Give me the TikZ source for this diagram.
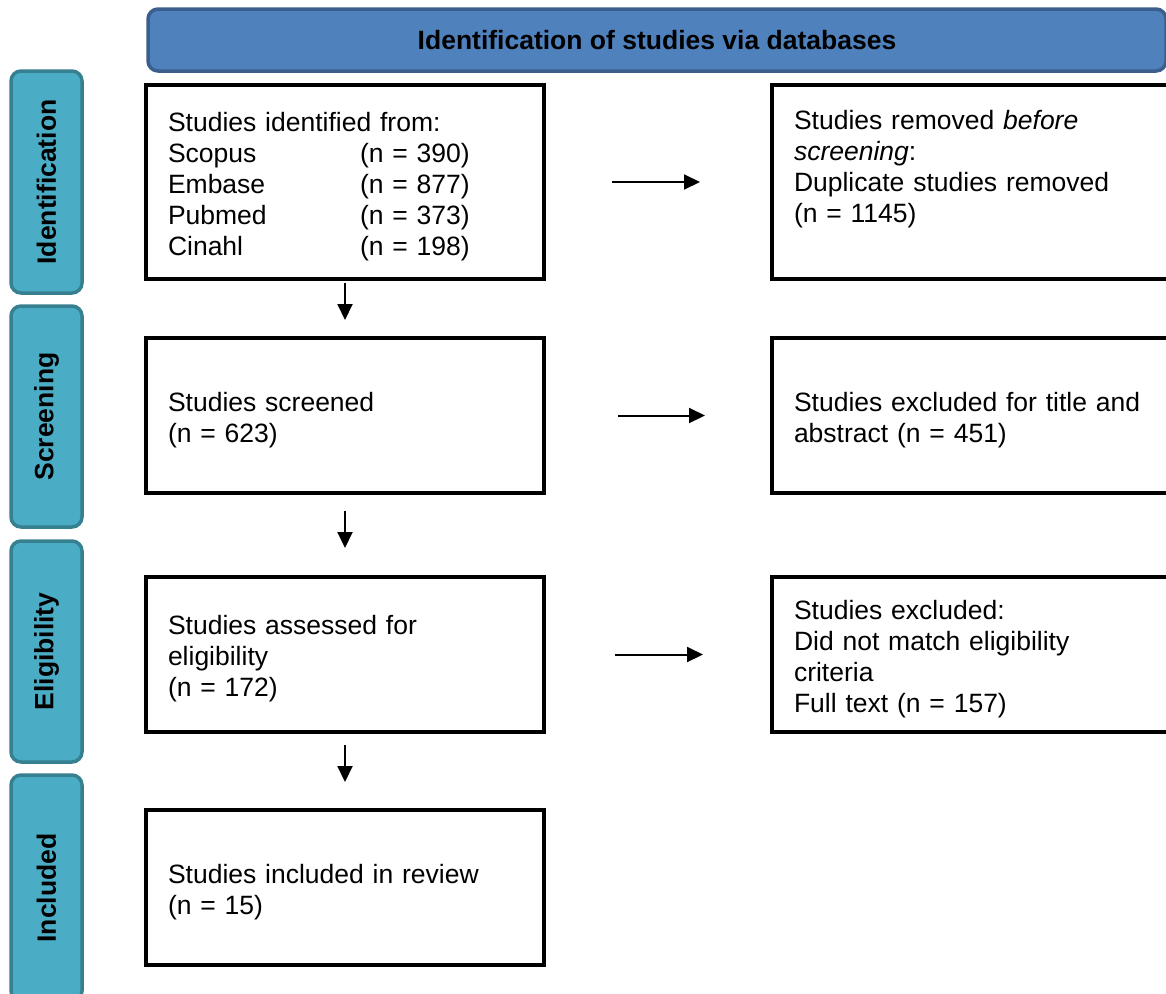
\documentclass[tikz,border=0pt]{standalone}
\usepackage{fontspec}
\setmainfont{Liberation Sans}
\usetikzlibrary{arrows.meta}
\definecolor{banfill}{HTML}{4F81BD}
\definecolor{bandraw}{HTML}{3A5F8D}
\definecolor{labfill}{HTML}{4BACC6}
\definecolor{labdraw}{HTML}{37808F}
\newcommand{\fl}{\rule{0pt}{27.5pt}}
\tikzset{
  flowbox/.style={draw=black, line width=4pt, fill=white, minimum width=398pt, inner xsep=22pt, inner ysep=0pt, outer sep=0pt, text width=354pt, align=left, font=\fontsize{26.5}{31}\selectfont},
  banner/.style={draw=bandraw, line width=3.5pt, fill=banfill, rounded corners=10pt, minimum width=1018pt, minimum height=62pt, inner sep=0pt, font=\fontsize{26.5}{31}\selectfont\bfseries},
  phase/.style={draw=labdraw, line width=3.5pt, fill=labfill, rounded corners=10pt, rotate=90, minimum height=71pt, inner sep=0pt, font=\fontsize{26.5}{31}\selectfont\bfseries},
  flowarrow/.style={line width=2pt, -{Triangle[width=15pt,length=16pt]}}
}
\begin{document}
\begin{tikzpicture}[x=1pt,y=-1pt]
\useasboundingbox (0,0) rectangle (1166,993);
\clip (0,0) rectangle (1166,993);
\node[banner] (ban) at (657,40) {Identification of studies via databases};
\node[phase, minimum width=222pt] (p1) at (46.5,182) {Identification};
\node[phase, minimum width=221pt] (p2) at (46.5,416.5) {Screening};
\node[phase, minimum width=221pt] (p3) at (46.5,651.5) {Eligibility};
\node[phase, minimum width=226pt] (p4) at (46.5,888) {Included};

\node[flowbox, minimum height=194pt] (l1) at (345,182) {\fl Studies identified from:\\
\makebox[192pt][l]{Scopus}(n = 390)\\
\makebox[192pt][l]{Embase}(n = 877)\\
\makebox[192pt][l]{Pubmed}(n = 373)\\
\makebox[192pt][l]{Cinahl}(n = 198)};
\node[flowbox, minimum height=155pt] (l2) at (345,415.5) {\fl Studies screened\\(n = 623)};
\node[flowbox, minimum height=155pt] (l3) at (345,654.5) {\fl Studies assessed for\\eligibility\\(n = 172)};
\node[flowbox, minimum height=155pt] (l4) at (345,887.5) {\fl Studies included in review\\(n = 15)};

\node[flowbox, minimum height=194pt] (r1) at (971,182) {\fl Studies removed \textit{before}\\\textit{screening}:\\Duplicate studies removed\\(n = 1145)\\\strut};
\node[flowbox, minimum height=155pt] (r2) at (971,415.5) {\fl Studies excluded for title and\\abstract (n = 451)};
\node[flowbox, minimum height=155pt] (r3) at (971,654.5) {\fl Studies excluded:\\Did not match eligibility\\criteria\\Full text (n = 157)};

\draw[flowarrow, shorten <=4pt, shorten >=18pt] (l1.south) -- (l2.north);
\draw[flowarrow, shorten <=18pt, shorten >=29pt] (l2.south) -- (l3.north);
\draw[flowarrow, shorten <=13pt, shorten >=28pt] (l3.south) -- (l4.north);
\draw[flowarrow, shorten <=68pt, shorten >=72pt] (l1.east) -- (r1.west);
\draw[flowarrow, shorten <=74pt, shorten >=67pt] (l2.east) -- (r2.west);
\draw[flowarrow, shorten <=71pt, shorten >=69pt] (l3.east) -- (r3.west);
\end{tikzpicture}
\end{document}
